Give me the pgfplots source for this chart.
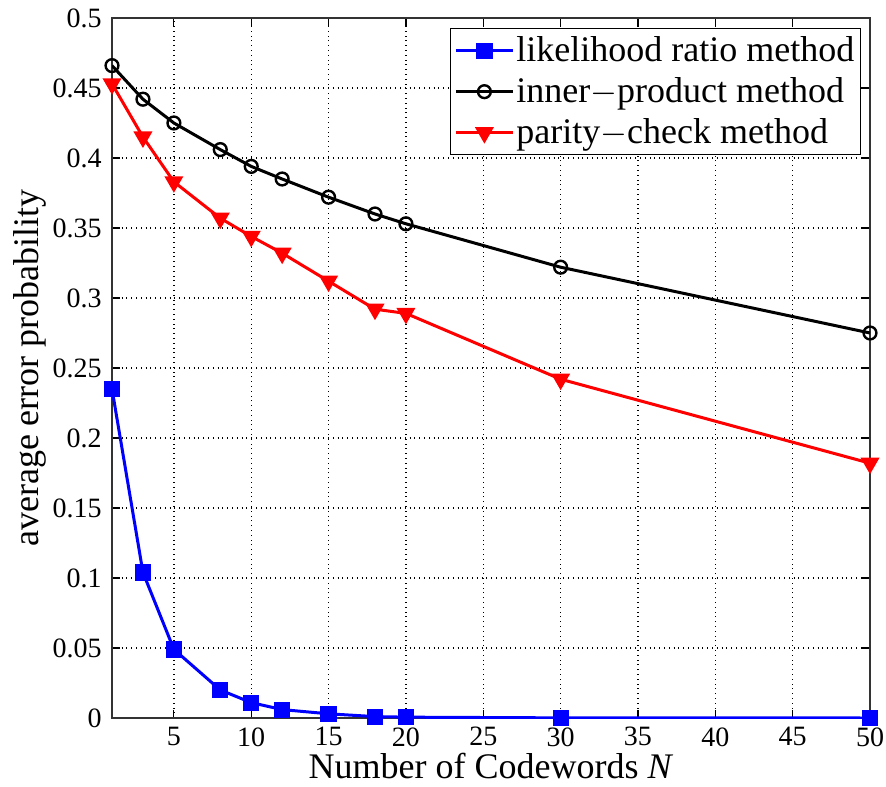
\documentclass[border=0pt]{standalone}
\usepackage{fontspec}
\setmainfont{Liberation Serif}
\usepackage{pgfplots}
\pgfplotsset{compat=1.18}
\begin{document}
\begin{tikzpicture}
\begin{axis}[
  scale only axis,
  width=379pt, height=350pt,
  xmin=1, xmax=50, ymin=0, ymax=0.5,
  xtick={5,10,...,50},
  xticklabels={5,10,15,20,25,30,35,40,45,50},
  ytick={0,0.05,...,0.5},
  yticklabels={0,0.05,0.1,0.15,0.2,0.25,0.3,0.35,0.4,0.45,0.5},
  tick align=inside,
  major tick length=4pt,
  tick style={black, line width=0.6pt},
  axis line style={black!80, line width=0.8pt},
  grid=major,
  major grid style={black, dotted, line width=0.7pt},
  ticklabel style={font=\fontsize{14}{14}\selectfont, inner sep=0pt},
  xticklabel style={yshift=-4.5pt},
  yticklabel style={xshift=-5pt},
  xlabel={Number of Codewords \textit{N}},
  ylabel={average error probability},
  label style={font=\fontsize{18}{18}\selectfont},
  xlabel style={at={(axis description cs:0.5,-0.0871)}, anchor=base, inner sep=0pt},
  ylabel style={at={(axis description cs:-0.0858,0.5)}, anchor=south, inner sep=0pt},
  legend style={at={(rel axis cs:1,1)}, anchor=north east, xshift=-4.5pt, yshift=-5pt,
    draw=black, line width=0.7pt, font=\fontsize{18}{18}\selectfont,
    inner xsep=2pt, inner ysep=3pt, row sep=4.5pt,
    nodes={inner sep=1pt}},
  legend cell align=left,
  legend image code/.code={
    \draw[mark repeat=2,mark phase=2] plot coordinates {(0cm,0cm) (0.5cm,0cm) (1cm,0cm)};
  },
  every axis plot/.append style={line width=1.5pt},
]
\addplot[blue, mark=square*, mark size=3.3pt, mark options={fill=blue}] coordinates {
(1,0.235) (3,0.104) (5,0.049) (8,0.020) (10,0.011) (12,0.006) (15,0.003) (18,0.001) (20,0.0006) (30,0.0001) (50,0)};
\addlegendentry{likelihood ratio method}
\addplot[black, mark=o, mark size=3.2pt, mark options={line width=1.2pt}] coordinates {
(1,0.466) (3,0.442) (5,0.425) (8,0.406) (10,0.394) (12,0.385) (15,0.372) (18,0.360) (20,0.353) (30,0.322) (50,0.275)};
\addlegendentry{inner$-$product method}
\addplot[red, mark=triangle*, mark size=4pt, mark options={rotate=180, fill=red}] coordinates {
(1,0.453) (3,0.415) (5,0.383) (8,0.357) (10,0.344) (12,0.332) (15,0.312) (18,0.292) (20,0.289) (30,0.242) (50,0.182)};
\addlegendentry{parity$-$check method}
\end{axis}
\pgfresetboundingbox
\useasboundingbox ([shift={(-56pt,-34pt)}]current axis.south west) rectangle ([shift={(8pt,9pt)}]current axis.north east);
\end{tikzpicture}
\end{document}
